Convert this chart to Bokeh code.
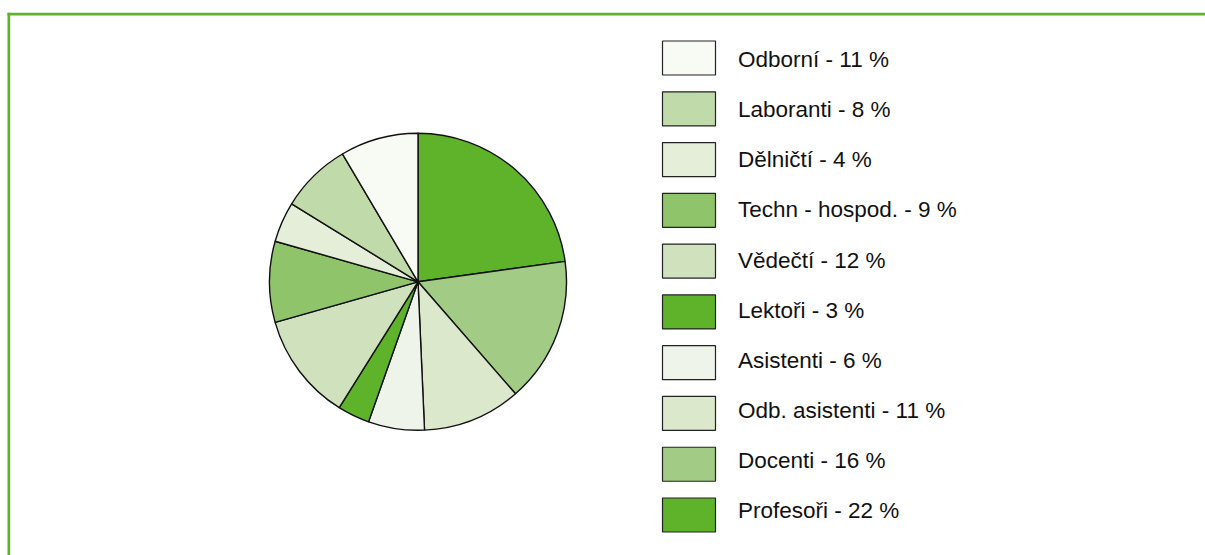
import math
from bokeh.plotting import figure
from bokeh.models import ColumnDataSource
from bokeh.core.properties import value
from bokeh.embed import file_html
from bokeh.resources import INLINE

# Data (pie order: clockwise from 12 o'clock)
categories = ["Profesoři", "Docenti", "Odb. asistenti", "Asistenti", "Lektoři",
              "Vědečtí", "Techn - hospod.", "Dělničtí", "Laboranti", "Odborní"]
shares = [22.8, 15.8, 10.7, 6.1, 3.5, 11.7, 8.8, 4.4, 7.7, 8.5]
label_pct = [22, 16, 11, 6, 3, 12, 9, 4, 8, 11]
colors = ["#5fb32a", "#a2cb85", "#dce8cc", "#eef4e9", "#5fb32a",
          "#cfe1bd", "#8fc46b", "#e4eed9", "#c0dba9", "#f8faf4"]

W, H = 1205, 555
p = figure(width=W, height=H, x_range=(0, W), y_range=(0, H),
           toolbar_location=None, output_backend="svg", min_border=0)
p.axis.visible = False
p.grid.visible = False
p.outline_line_color = None
p.background_fill_color = "white"

# frame lines (top and left)
p.quad(left=[7], right=[W], bottom=[H - 15], top=[H - 12.3], fill_color="#5fb32a", line_color=None)
p.quad(left=[7], right=[9.7], bottom=[0], top=[H - 12.3], fill_color="#5fb32a", line_color=None)

# pie
cx, cy, r = 417.5, H - 281.3, 148.5
total = sum(shares)
starts, ends = [], []
acc = 0.0
for s in shares:
    a0 = math.pi / 2 - 2 * math.pi * acc / total
    acc += s
    a1 = math.pi / 2 - 2 * math.pi * acc / total
    starts.append(a1)
    ends.append(a0)
src = ColumnDataSource(dict(start=starts, end=ends, color=colors))
p.wedge(x=cx, y=cy, radius=r, start_angle="start", end_angle="end",
        fill_color="color", line_color="#111111", line_width=1.4, source=src)

# legend (reversed order, top to bottom)
leg_names = categories[::-1]
leg_pct = label_pct[::-1]
leg_colors = colors[::-1]
idx = list(range(len(leg_names)))
sw_y = [H - (57.5 + 50.78 * i) for i in idx]
tx_y = [H - (59.0 + 50.15 * i) for i in idx]
lsrc = ColumnDataSource(dict(
    sy=sw_y, ty=tx_y, color=leg_colors,
    text=[f"{n} - {v} %" for n, v in zip(leg_names, leg_pct)]))
p.rect(x=688.5, y="sy", width=53, height=34, fill_color="color",
       line_color="#222222", line_width=1.2, source=lsrc)
p.text(x=737.5, y="ty", text="text", text_font=value("Liberation Sans"),
       text_font_size="22.5px", text_baseline="alphabetic", text_color="#111111",
       source=lsrc)

open("out.html", "w").write(file_html(p, INLINE))
